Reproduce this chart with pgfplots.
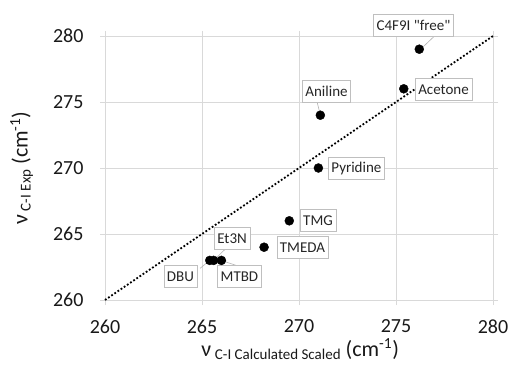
\documentclass[border=0pt]{standalone}
\usepackage{fontspec}
\setmainfont{Carlito}
\usepackage{pgfplots}
\pgfplotsset{compat=1.18}
\tikzset{
  lbl/.style={draw=black!25, fill=white, font=\fontsize{15}{18}\selectfont, text=black!85, inner sep=3pt, minimum height=22pt, anchor=center},
  ldr/.style={draw=black!30, line width=0.6pt},
}
\begin{document}
\begin{tikzpicture}[x=1pt,y=1pt]
\useasboundingbox (0,0) rectangle (510,367);
\begin{axis}[
  at={(105pt,67pt)}, anchor=south west,
  scale only axis, width=388pt, height=264pt,
  xmin=260, xmax=280, ymin=260, ymax=280,
  xtick={260,265,...,280}, ytick={260,265,...,280},
  grid=major, grid style={draw=black!15, line width=0.8pt},
  axis line style={draw=black!15, line width=0.8pt},
  tick style={draw=black!15, line width=0.8pt},
  tick align=outside, major tick length=5pt,
  /pgf/number format/assume math mode=true,
  ticklabel style={font=\fontsize{20}{24}\selectfont, text=black!90},
  yticklabel style={xshift=-13pt},
  xticklabel style={yshift=-11pt},
  xlabel={\fontsize{22}{26}\selectfont ν\,\raisebox{-3pt}{\fontsize{15}{18}\selectfont C-I Calculated Scaled} (cm\textsuperscript{-1})},
  ylabel={\fontsize{22}{26}\selectfont ν\,\raisebox{-3pt}{\fontsize{15}{18}\selectfont C-I Exp} (cm\textsuperscript{-1})},
  xlabel style={at={(axis description cs:0.503,-0.185)}, anchor=center, text=black!90},
  ylabel style={at={(axis description cs:-0.215,0.5)}, anchor=center, rotate=0, text=black!90},
  clip=false,
]
\addplot[black, dotted, line width=1.8pt, forget plot] coordinates {(260,260) (280,280)};
% leader lines
\draw[ldr] (axis cs:276.2,278.9) -- (axis cs:277.2,280.3);
\draw[ldr] (axis cs:271.1,274.0) -- (axis cs:270.9,275.2);
\draw[ldr] (axis cs:265.6,263.0) -- (axis cs:266.3,264.0);
\draw[ldr] (axis cs:265.4,263.0) -- (axis cs:264.9,262.4);
\draw[ldr] (axis cs:266.0,263.0) -- (axis cs:266.8,262.6);
\addplot[only marks, mark=*, mark size=4.5pt, black] coordinates {
  (276.2,279.0) (275.4,276.0) (271.1,274.0) (271.0,270.0) (269.5,266.0)
  (268.2,264.0) (265.4,263.0) (265.6,263.0) (266.0,263.0)
};
\node[lbl] at (axis cs:275.90,280.80) {C4F9I \textquotedbl free\textquotedbl};
\node[lbl] at (axis cs:271.42,275.83) {Aniline};
\node[lbl] at (axis cs:277.45,275.95) {Acetone};
\node[lbl] at (axis cs:272.96,269.96) {Pyridine};
\node[lbl] at (axis cs:270.98,266.02) {TMG};
\node[lbl] at (axis cs:270.18,263.98) {TMEDA};
\node[lbl] at (axis cs:266.55,264.66) {Et3N};
\node[lbl] at (axis cs:263.89,261.78) {DBU};
\node[lbl] at (axis cs:266.93,261.78) {MTBD};
\end{axis}
\end{tikzpicture}
\end{document}
